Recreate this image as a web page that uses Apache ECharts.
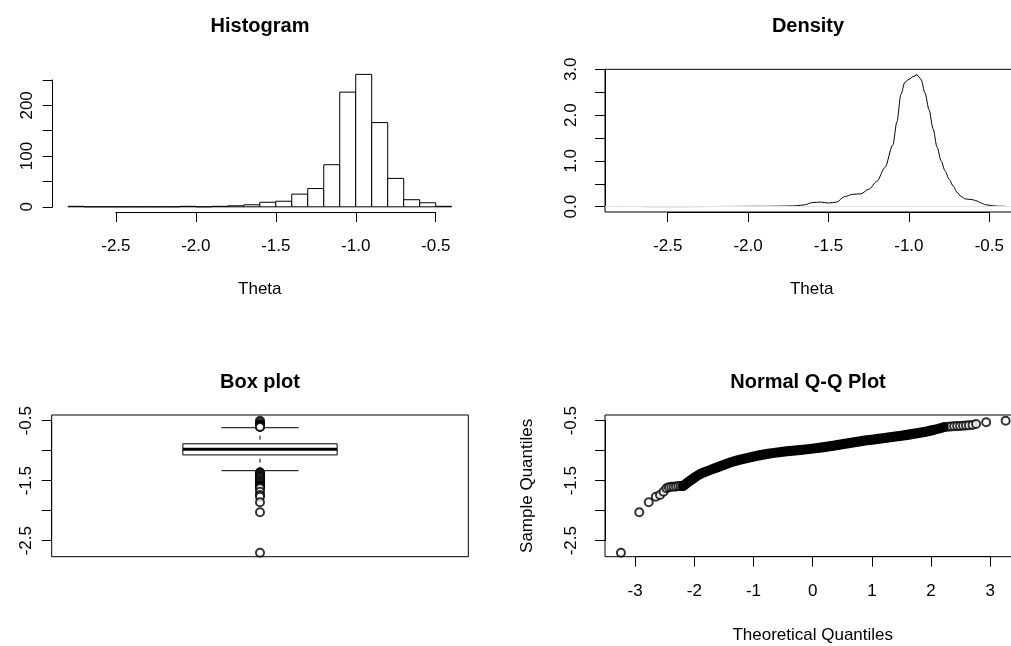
<!DOCTYPE html>
<html>
<head>
<meta charset="utf-8">
<script src="https://cdn.jsdelivr.net/npm/echarts@6/dist/echarts.min.js"></script>
<style>
html, body { margin: 0; padding: 0; background: #fff; }
#chart { width: 1011px; height: 646px; }
</style>
</head>
<body>
<div id="chart"></div>
<script>
// histogram of theta (bin edges + counts)
var histEdges = [-2.8, -2.7, -2.6, -2.5, -2.4, -2.3, -2.2, -2.1, -2.0, -1.9, -1.8, -1.7,
                 -1.6, -1.5, -1.4, -1.3, -1.2, -1.1, -1.0, -0.9, -0.8, -0.7, -0.6, -0.5, -0.4];
var histCounts = [1, 0, 0, 0, 0, 0, 0, 1, 0, 1, 2, 4, 9, 11, 25, 36, 83, 226, 261, 166, 56, 14, 8, 1];

// kernel density curve
var densX = [-2.8, -2.7, -2.6, -2.5, -2.4, -2.3, -2.2, -2.1, -2.0, -1.9, -1.8, -1.75, -1.7, -1.65,
             -1.6, -1.55, -1.5, -1.45, -1.4, -1.35, -1.3, -1.25, -1.2, -1.15, -1.1, -1.075, -1.05,
             -1.025, -1.0, -0.975, -0.95, -0.925, -0.9, -0.875, -0.85, -0.825, -0.8, -0.775, -0.75,
             -0.725, -0.7, -0.675, -0.65, -0.625, -0.6, -0.575, -0.55, -0.525, -0.5, -0.475, -0.45,
             -0.425, -0.4];
var densY = [0.005, 0.004, 0.002, 0.002, 0.002, 0.003, 0.004, 0.006, 0.008, 0.008, 0.012, 0.015, 0.02, 0.04,
             0.09, 0.10, 0.08, 0.10, 0.22, 0.27, 0.28, 0.38, 0.55, 0.85, 1.35, 1.85, 2.45,
             2.72, 2.78, 2.84, 2.88, 2.78, 2.48, 2.12, 1.70, 1.30, 1.00, 0.78, 0.60,
             0.45, 0.31, 0.22, 0.17, 0.16, 0.15, 0.12, 0.08, 0.045, 0.03, 0.018, 0.012,
             0.01, 0.008];

// box plot: lower whisker, Q1, median, Q3, upper whisker
var boxStats = [-1.333, -1.07, -0.977, -0.885, -0.617];
var boxOutliers = [-0.50, -0.527, -0.555, -0.57, -0.577, -0.58, -0.583, -0.587, -0.59, -0.593, -0.597, -0.60, -0.605,
                   -1.36, -1.37, -1.38, -1.40, -1.42, -1.44, -1.46, -1.48, -1.50, -1.52, -1.54, -1.56, -1.58,
                   -1.59, -1.595, -1.60, -1.61, -1.627, -1.683, -1.738, -1.767, -1.86, -2.027, -2.70];

// normal Q-Q: dense middle band and the separate tail points
var qqBandX = [-2.19, -2.07, -1.9, -1.62, -1.34, -1.06, -0.78, -0.5, -0.21, 0.0, 0.35, 0.91, 1.47, 1.76, 2.04, 2.21];
var qqBandY = [-1.59, -1.50, -1.39, -1.28, -1.18, -1.11, -1.055, -1.017, -0.99, -0.965, -0.917, -0.827, -0.755, -0.71, -0.655, -0.61];
var qqTailX = [-3.24, -2.93, -2.77, -2.65, -2.58, -2.52, -2.47, -2.43, -2.39, -2.35, -2.31, -2.27, -2.23, -2.19,
               2.24, 2.29, 2.34, 2.39, 2.44, 2.49, 2.54, 2.59, 2.64, 2.70, 2.76, 2.93, 3.26];
var qqTailY = [-2.70, -2.027, -1.86, -1.767, -1.738, -1.683, -1.627, -1.61, -1.60, -1.60, -1.595, -1.59, -1.59, -1.585,
               -0.605, -0.60, -0.597, -0.593, -0.59, -0.587, -0.583, -0.58, -0.577, -0.57, -0.555, -0.527, -0.50];

var FONT = 'Liberation Sans, Arial, Helvetica, sans-serif';
var txt = { color: '#000', fontSize: 17, fontFamily: FONT };

function grid(left, top, width, height, box) {
  return { left: left, top: top, width: width, height: height, show: !!box,
           outerBoundsMode: 'none', containLabel: false,
           borderColor: '#000', borderWidth: 1, backgroundColor: 'transparent' };
}

// invisible axis that only sets the scale of a plot region (may carry the axis title)
function plotAxis(g, min, max, name, gap, rot) {
  return {
    gridIndex: g, type: 'value', min: min, max: max,
    axisLine: { show: false }, axisTick: { show: false }, axisLabel: { show: false },
    splitLine: { show: false },
    name: name || '', nameLocation: 'middle', nameGap: gap || 0, nameRotate: rot === undefined ? null : rot,
    nameTextStyle: txt
  };
}

// R-style axis that runs from the first to the last tick only
function tickAxis(g, min, max, step, fmt, margin, rotate) {
  return {
    gridIndex: g, type: 'value', min: min, max: max, interval: step,
    axisLine: { show: true, onZero: false, lineStyle: { color: '#000', width: 1 } },
    axisTick: { show: true, length: 10, lineStyle: { color: '#000', width: 1 } },
    axisLabel: { show: true, margin: margin, rotate: rotate || 0, formatter: fmt,
                 color: '#000', fontSize: 17, fontFamily: FONT },
    splitLine: { show: false }
  };
}

function hidden(g) {
  return { gridIndex: g, type: 'value', show: false, min: 0, max: 1 };
}

function oneDec(v) { return v.toFixed(1); }
function oddHalves(v) { return Math.abs(Math.round(v * 2)) % 2 === 1 ? v.toFixed(1) : ''; }

var chart = echarts.init(document.getElementById('chart'));

var histData = histCounts.map(function (c, i) { return [histEdges[i], histEdges[i + 1], c]; });
var densData = densX.map(function (x, i) { return [x, densY[i]]; });
var qqBand = qqBandX.map(function (x, i) { return [x, qqBandY[i]]; });
var qqTail = qqTailX.map(function (x, i) { return [x, qqTailY[i]]; });
var boxOut = boxOutliers.map(function (v) { return [1, v]; });

var option = {
  animation: false,
  backgroundColor: '#fff',
  title: [
    { text: 'Histogram', left: 260, top: 16, textAlign: 'center', padding: 0 },
    { text: 'Density', left: 808, top: 16, textAlign: 'center', padding: 0 },
    { text: 'Box plot', left: 260, top: 372, textAlign: 'center', padding: 0 },
    { text: 'Normal Q-Q Plot', left: 808, top: 372, textAlign: 'center', padding: 0 }
  ].map(function (t) {
    t.textStyle = { color: '#000', fontSize: 20, fontWeight: 'bold', fontFamily: FONT };
    return t;
  }),
  grid: [
    grid(52.6, 69.1, 414.4, 143.0),          // 0 histogram plot region
    grid(115.9, 69.1, 319.8, 143.0),         // 1 histogram x axis
    grid(52.6, 80.0, 414.4, 126.8),          // 2 histogram y axis
    grid(605, 69.3, 413.3, 142.7, true),     // 3 density plot region
    grid(667.7, 69.3, 321.6, 142.7),         // 4 density x axis
    grid(605, 69.3, 413.3, 137.4),           // 5 density y axis
    grid(51.7, 415, 416.6, 141.7, true),     // 6 box plot region
    grid(51.7, 420.7, 416.6, 120),           // 7 box y axis
    grid(605, 415, 415.4, 141.7, true),      // 8 qq plot region
    grid(635.1, 415, 355.2, 141.7),          // 9 qq x axis
    grid(605, 420.7, 415.4, 120)             // 10 qq y axis
  ],
  xAxis: [
    plotAxis(0, -2.896, -0.304, 'Theta', 69),
    tickAxis(1, -2.5, -0.5, 0.5, oneDec, 26),
    hidden(2),
    plotAxis(3, -2.89, -0.32, 'Theta', 69),
    tickAxis(4, -2.5, -0.5, 0.5, oneDec, 26),
    hidden(5),
    plotAxis(6, 0.46, 1.54),
    hidden(7),
    plotAxis(8, -3.509, 3.509, 'Theoretical Quantiles', 70),
    tickAxis(9, -3, 3, 1, function (v) { return String(v); }, 26),
    hidden(10)
  ],
  yAxis: [
    plotAxis(0, -10.4, 271.4),
    hidden(1),
    tickAxis(2, 0, 250, 50, function (v) { return v % 100 === 0 ? String(v) : ''; }, 17, 90),
    plotAxis(3, -0.116, 3.0),
    hidden(4),
    tickAxis(5, 0, 3, 0.5, function (v) { return Math.abs(v % 1) < 1e-9 ? v.toFixed(1) : ''; }, 25, 90),
    plotAxis(6, -2.767, -0.405),
    tickAxis(7, -2.5, -0.5, 0.5, oddHalves, 17, 90),
    plotAxis(8, -2.767, -0.405, 'Sample Quantiles', 69, 90),
    hidden(9),
    tickAxis(10, -2.5, -0.5, 0.5, oddHalves, 25, 90)
  ],
  series: [
    {
      type: 'custom', xAxisIndex: 0, yAxisIndex: 0, data: histData,
      renderItem: function (params, api) {
        var p0 = api.coord([api.value(0), api.value(2)]);
        var p1 = api.coord([api.value(1), 0]);
        return {
          type: 'rect',
          shape: { x: p0[0], y: p0[1], width: p1[0] - p0[0], height: p1[1] - p0[1] },
          style: { fill: '#fff', stroke: '#000', lineWidth: 1 }
        };
      }
    },
    {
      type: 'line', xAxisIndex: 3, yAxisIndex: 3, data: densData,
      showSymbol: false, smooth: 0.3, smoothMonotone: 'x',
      lineStyle: { color: '#000', width: 1 },
      markLine: {
        silent: true, symbol: ['none', 'none'], label: { show: false },
        lineStyle: { color: '#e3e3e3', width: 1, type: 'solid' },
        data: [{ yAxis: 0 }]
      }
    },
    {
      type: 'custom', xAxisIndex: 6, yAxisIndex: 6, data: [[1].concat(boxStats)],
      renderItem: function (params, api) {
        var x = api.value(0);
        var lo = api.value(1), q1 = api.value(2), med = api.value(3), q3 = api.value(4), hi = api.value(5);
        var c = function (a, b) { return api.coord([a, b]); };
        var line = function (a, b, w, dash) {
          return { type: 'line', shape: { x1: a[0], y1: a[1], x2: b[0], y2: b[1] },
                   style: { stroke: '#000', lineWidth: w, lineDash: dash || null } };
        };
        var tl = c(x - 0.2, q3), br = c(x + 0.2, q1);
        return {
          type: 'group',
          children: [
            line(c(x, hi), c(x, q3), 1, [4, 4]),
            line(c(x, lo), c(x, q1), 1, [4, 4]),
            line(c(x - 0.1, hi), c(x + 0.1, hi), 1),
            line(c(x - 0.1, lo), c(x + 0.1, lo), 1),
            { type: 'rect', shape: { x: tl[0], y: tl[1], width: br[0] - tl[0], height: br[1] - tl[1] },
              style: { fill: '#fff', stroke: '#000', lineWidth: 1 } },
            line(c(x - 0.2, med), c(x + 0.2, med), 3)
          ]
        };
      }
    },
    {
      type: 'scatter', xAxisIndex: 6, yAxisIndex: 6, data: boxOut,
      symbol: 'emptyCircle', symbolSize: 8,
      itemStyle: { color: '#000', borderColor: '#000', borderWidth: 1 }
    },
    {
      type: 'line', xAxisIndex: 8, yAxisIndex: 8, data: qqBand,
      showSymbol: false, smooth: 0.3,
      lineStyle: { color: '#000', width: 10, cap: 'round' }
    },
    {
      type: 'scatter', xAxisIndex: 8, yAxisIndex: 8, data: qqTail,
      symbol: 'emptyCircle', symbolSize: 8,
      itemStyle: { color: '#000', borderColor: '#000', borderWidth: 1 }
    }
  ]
};

chart.setOption(option);
</script>
</body>
</html>
